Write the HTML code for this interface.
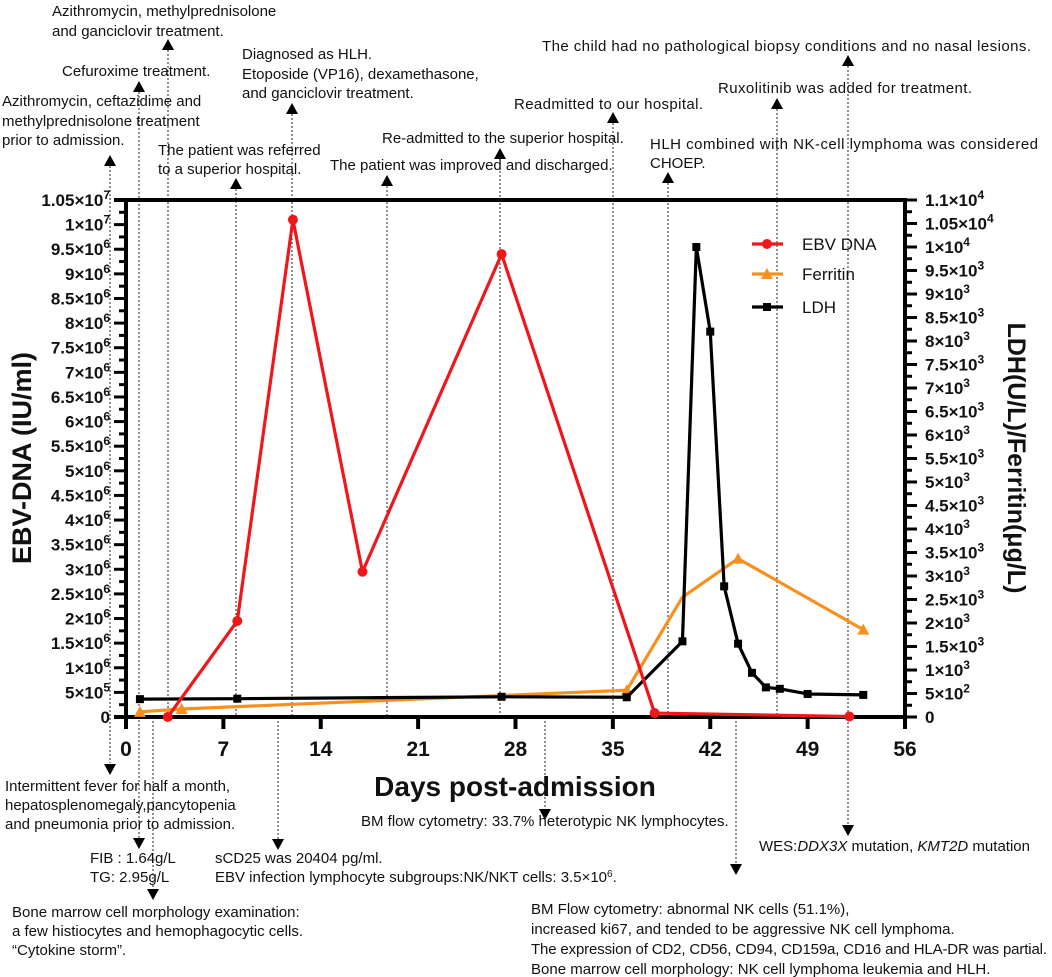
<!DOCTYPE html>
<html><head><meta charset="utf-8"><style>
html,body{margin:0;padding:0;background:#fff;}
svg{display:block;font-family:"Liberation Sans",Arial,sans-serif;}
.ann{font-size:15px;fill:#111;}
.tk{font-size:17px;font-weight:bold;fill:#111;}
</style></head><body>
<svg id="chart" width="1052" height="977" viewBox="0 0 1052 977" xmlns="http://www.w3.org/2000/svg">
<g id="grid"></g>
<g id="axes"></g>
<g id="series"></g>
<g id="legend"></g>
<g id="anns">
<text class="ann" x="52" y="16"><tspan x="52">Azithromycin, methylprednisolone</tspan><tspan x="52" dy="20">and ganciclovir treatment.</tspan></text>
<text class="ann" x="62" y="76">Cefuroxime treatment.</text>
<text class="ann" x="2" y="106"><tspan x="2">Azithromycin, ceftazidime and</tspan><tspan x="2" dy="20">methylprednisolone treatment</tspan><tspan x="2" dy="19">prior to admission.</tspan></text>
<text class="ann" x="158" y="155"><tspan x="158">The patient was referred</tspan><tspan x="158" dy="19">to a superior hospital.</tspan></text>
<text class="ann" x="242" y="59"><tspan x="242">Diagnosed as HLH.</tspan><tspan x="242" dy="20">Etoposide (VP16), dexamethasone,</tspan><tspan x="242" dy="19">and ganciclovir treatment.</tspan></text>
<text class="ann" x="330" y="170">The patient was improved and discharged.</text>
<text class="ann" x="382" y="143">Re-admitted to the superior hospital.</text>
<text class="ann" x="514" y="109" textLength="189">Readmitted to our hospital.</text>
<text class="ann" x="542" y="51" textLength="489">The child had no pathological biopsy conditions and no nasal lesions.</text>
<text class="ann" x="718" y="93" textLength="254">Ruxolitinib was added for treatment.</text>
<text class="ann" x="650" y="149"><tspan x="650" textLength="388">HLH combined with NK-cell lymphoma was considered</tspan><tspan x="650" dy="19">CHOEP.</tspan></text>
<text class="ann" x="5" y="791"><tspan x="5">Intermittent fever for half a month,</tspan><tspan x="5" dy="19">hepatosplenomegaly,pancytopenia</tspan><tspan x="5" dy="19">and pneumonia prior to admission.</tspan></text>
<text class="ann" x="90" y="863"><tspan x="90">FIB : 1.64g/L</tspan><tspan x="90" dy="19">TG: 2.95g/L</tspan></text>
<text class="ann" x="12" y="917"><tspan x="12">Bone marrow cell morphology examination:</tspan><tspan x="12" dy="19">a few histiocytes and hemophagocytic cells.</tspan><tspan x="12" dy="19">“Cytokine storm”.</tspan></text>
<text class="ann" x="215" y="863"><tspan x="215">sCD25 was 20404 pg/ml.</tspan><tspan x="215" dy="19">EBV infection lymphocyte subgroups:NK/NKT cells: 3.5×10<tspan font-size="10" dy="-5">6</tspan><tspan dy="5">.</tspan></tspan></text>
<text class="ann" x="361" y="826">BM flow cytometry: 33.7% heterotypic NK lymphocytes.</text>
<text class="ann" x="759" y="851">WES:<tspan font-style="italic">DDX3X</tspan> mutation, <tspan font-style="italic">KMT2D</tspan> mutation</text>
<text class="ann" x="531" y="914"><tspan x="531">BM Flow cytometry: abnormal NK cells (51.1%),</tspan><tspan x="531" dy="20">increased ki67, and tended to be aggressive NK cell lymphoma.</tspan><tspan x="531" dy="20" textLength="516">The expression of CD2, CD56, CD94, CD159a, CD16 and HLA-DR was partial.</tspan><tspan x="531" dy="20">Bone marrow cell morphology: NK cell lymphoma leukemia and HLH.</tspan></text>
</g>
<text x="0" y="0" transform="translate(31,458) rotate(-90)" text-anchor="middle" font-size="27" font-weight="bold" fill="#111">EBV-DNA (IU/ml)</text>
<text x="0" y="0" transform="translate(1008,458) rotate(90)" text-anchor="middle" font-size="25" font-weight="bold" fill="#111">LDH(U/L)/Ferritin(μg/L)</text>
<text x="515" y="796" text-anchor="middle" font-size="28" font-weight="bold" fill="#111">Days post-admission</text>
</svg>
<script>
// ---- data ----
const ebvDays = [3, 8, 12, 17, 27, 38, 52];
const ebvValues = [0, 1950000, 10100000, 2950000, 9400000, 80000, 10000];
const ferritinDays = [1, 4, 36, 40, 44, 53];
const ferritinValues = [110, 170, 570, 2550, 3370, 1860];
const ldhDays = [1, 8, 27, 36, 40, 41, 42, 43, 44, 45, 46, 47, 49, 53];
const ldhValues = [380, 390, 430, 420, 1610, 10000, 8200, 2780, 1560, 940, 630, 600, 490, 470];
const xTicks = [0, 7, 14, 21, 28, 35, 42, 49, 56];
const leftTickMantissa = ['0','5','1','1.5','2','2.5','3','3.5','4','4.5','5','5.5','6','6.5','7','7.5','8','8.5','9','9.5','1','1.05'];
const leftTickExp = ['','5','6','6','6','6','6','6','6','6','6','6','6','6','6','6','6','6','6','6','7','7'];
const rightTickMantissa = ['0','5','1','1.5','2','2.5','3','3.5','4','4.5','5','5.5','6','6.5','7','7.5','8','8.5','9','9.5','1','1.05','1.1'];
const rightTickExp = ['','2','3','3','3','3','3','3','3','3','3','3','3','3','3','3','3','3','3','3','4','4','4'];

const NS = 'http://www.w3.org/2000/svg';
const X0 = 126, X1 = 905, Y0 = 717, YT = 200;
const leftMax = 10500000, rightMax = 11000;
const xs = d => X0 + d / 56 * (X1 - X0);
const yl = v => Y0 - v / leftMax * (Y0 - YT);
const yr = v => Y0 - v / rightMax * (Y0 - YT);
function mk(tag, attrs, parent) {
  const e = document.createElementNS(NS, tag);
  for (const k in attrs) e.setAttribute(k, attrs[k]);
  parent.appendChild(e);
  return e;
}
const axes = document.getElementById('axes');
const grid = document.getElementById('grid');
const series = document.getElementById('series');
const legend = document.getElementById('legend');

function guide(x, y1, y2) {
  const l = mk('line', {x1: x, x2: x, y1: y1, y2: y2, stroke: '#222', 'stroke-width': 1, 'stroke-dasharray': '2,2'}, grid);
  
  
}
function arrowUp(x, tip) {
  const p = mk('polygon', {points: `${x},${tip} ${x-6},${tip+11} ${x+6},${tip+11}`, fill: '#000'}, grid);
  
  
}
function arrowDown(x, tip) {
  const p = mk('polygon', {points: `${x},${tip} ${x-6},${tip-11} ${x+6},${tip-11}`, fill: '#000'}, grid);
  
  
}
guide(110, 166, 763); arrowUp(110, 155); arrowDown(110, 775);
guide(139, 92, 838); arrowUp(139, 81); arrowDown(139, 849);
guide(168, 50, 717); arrowUp(168, 39);
guide(153, 717, 889); arrowDown(153, 900);
guide(236, 189, 717); arrowUp(236, 178);
guide(292, 114, 717); arrowUp(292, 103);
guide(278, 717, 839); arrowDown(278, 850);
guide(387, 186, 717); arrowUp(387, 175);
guide(500, 159, 717); arrowUp(500, 148);
guide(545, 717, 809); arrowDown(545, 820);
guide(613, 123, 717); arrowUp(613, 112);
guide(668, 183, 717); arrowUp(668, 172);
guide(736, 717, 864); arrowDown(736, 875);
guide(777, 109, 717); arrowUp(777, 98);
guide(848, 66, 825); arrowUp(848, 55); arrowDown(848, 836);

const frame = [[X0-12, YT, X1+2, YT],[X0, YT, X0, Y0+12],[X1, YT, X1, Y0+12],[X0-12, Y0, X1, Y0]];
frame.forEach(f => {
  const l = mk('line', {x1: f[0], y1: f[1], x2: f[2], y2: f[3], stroke: '#000', 'stroke-width': 4}, axes);
  
  
});
xTicks.forEach(d => {
  const t = mk('line', {x1: xs(d), x2: xs(d), y1: Y0, y2: Y0 + 12, stroke: '#000', 'stroke-width': 4}, axes);
  
  
  const lb = mk('text', {x: xs(d), y: Y0 + 39, 'text-anchor': 'middle', 'font-size': 21, 'font-weight': 'bold', fill: '#111'}, axes);
  lb.textContent = d;
  
  
});
function tickLabel(x, y, anchor, m, e) {
  const t = mk('text', {x: x, y: y + 6, 'text-anchor': anchor, class: 'tk'}, axes);
  
  
  if (e === '') { t.textContent = m; return; }
  t.appendChild(document.createTextNode(m + '×10'));
  const s = mk('tspan', {dy: -7, 'font-size': 12}, t);
  s.textContent = e;
}
leftTickMantissa.forEach((m, i) => {
  const v = i * 500000, y = yl(v);
  const t = mk('line', {x1: X0 - 12, x2: X0, y1: y, y2: y, stroke: '#000', 'stroke-width': 3}, axes);
  
  
  if (i > 0) {
    const ym = yl(v - 250000);
    const mt = mk('line', {x1: X0 - 7, x2: X0, y1: ym, y2: ym, stroke: '#000', 'stroke-width': 3}, axes);
    
    
  }
  tickLabel(X0 - 16, y, 'end', m, leftTickExp[i]);
});
rightTickMantissa.forEach((m, i) => {
  const v = i * 500, y = yr(v);
  const t = mk('line', {x1: X1, x2: X1 + 12, y1: y, y2: y, stroke: '#000', 'stroke-width': 3}, axes);
  
  
  if (i > 0) {
    const ym = yr(v - 250);
    const mt = mk('line', {x1: X1, x2: X1 + 7, y1: ym, y2: ym, stroke: '#000', 'stroke-width': 3}, axes);
    
    
  }
  tickLabel(X1 + 20, y, 'start', m, rightTickExp[i]);
});

function marker(type, x, y, color, g) {
  let e;
  if (type === 'circle') e = mk('circle', {cx: x, cy: y, r: 5, fill: color}, g);
  else if (type === 'tri') e = mk('polygon', {points: `${x},${y-6} ${x-6},${y+5} ${x+6},${y+5}`, fill: color}, g);
  else e = mk('rect', {x: x - 4, y: y - 4, width: 8, height: 8, fill: color}, g);
  return e;
}
function drawSeries(name, days, vals, yf, color, type) {
  const g = mk('g', {}, series);
  
  
  const pts = days.map((d, i) => xs(d) + ',' + yf(vals[i])).join(' ');
  const pl = mk('polyline', {points: pts, fill: 'none', stroke: color, 'stroke-width': 3.2, 'stroke-linejoin': 'round'}, g);
  
  
  days.forEach((d, i) => {
    if (name === 'ferritin' && d === 40) return;
    const m = marker(type, xs(d), yf(vals[i]), color, g);
    
    
  });
}
drawSeries('ferritin', ferritinDays, ferritinValues, yr, '#f7901e', 'tri');
drawSeries('ldh', ldhDays, ldhValues, yr, '#000', 'sq');
drawSeries('ebv-dna', ebvDays, ebvValues, yl, '#f0171b', 'circle');

const legNames = ['EBV DNA', 'Ferritin', 'LDH'];
const legColors = ['#f0171b', '#f7901e', '#000'];
const legTypes = ['circle', 'tri', 'sq'];
const legY = [244, 274, 307];
legNames.forEach((n, i) => {
  const g = mk('g', {}, legend);
  
  
  mk('line', {x1: 752, x2: 783, y1: legY[i], y2: legY[i], stroke: legColors[i], 'stroke-width': 3.2}, g);
  marker(legTypes[i], 767, legY[i], legColors[i], g);
  const t = mk('text', {x: 802, y: legY[i] + 6, 'font-size': 17, fill: '#111'}, g);
  t.textContent = n;
});
</script>
</body></html>
